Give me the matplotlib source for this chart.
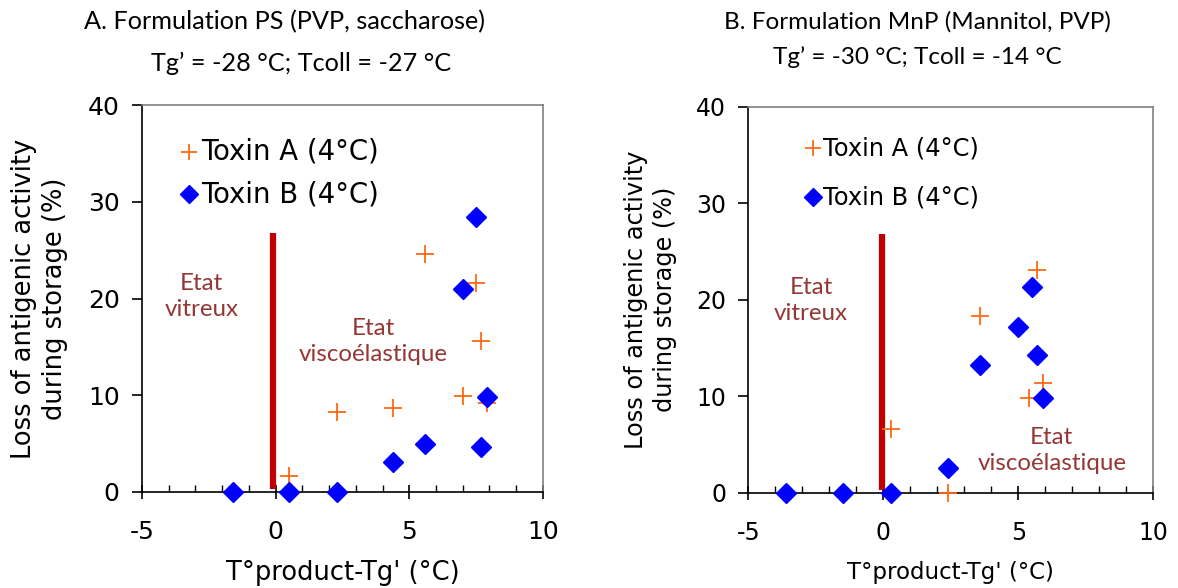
import matplotlib
matplotlib.use("Agg")
import matplotlib.pyplot as plt
from matplotlib.ticker import MultipleLocator

plt.rcParams["axes.unicode_minus"] = False

# panel A: formulation PS
a_toxA_x = [0.5, 2.3, 4.4, 5.6, 7.0, 7.9, 7.7, 7.5]
a_toxA_y = [1.7, 8.3, 8.7, 24.6, 9.9, 9.2, 15.6, 21.6]
a_toxB_x = [-1.6, 0.5, 2.3, 4.4, 5.6, 7.7, 7.9, 7.0, 7.5]
a_toxB_y = [0, 0, 0, 3.1, 5.0, 4.6, 9.8, 21.0, 28.4]

# panel B: formulation MnP
b_toxA_x = [2.4, 0.3, 3.6, 5.7, 5.9, 5.4]
b_toxA_y = [0, 6.6, 18.3, 23.1, 11.4, 9.8]
b_toxB_x = [-3.6, -1.5, 0.3, 2.4, 3.6, 5.0, 5.7, 5.5, 5.9]
b_toxB_y = [0, 0, 0, 2.6, 13.2, 17.2, 14.3, 21.3, 9.8]

tg_line_x = [-0.1, -0.05]
tg_line_top = 26.8

ORANGE = "#FF6A13"
BLUE = "#0000FF"
RED = "#C00000"
TXT = "#953735"
TITLE_FONT = ["Lato", "DejaVu Sans"]

fig = plt.figure(figsize=(11.78, 5.88), dpi=100)
axA = fig.add_axes([0.1205, 0.1633, 0.3404, 0.658])
axB = fig.add_axes([0.6352, 0.162, 0.3438, 0.6565])


def style(ax, fs, lab_fs):
    ax.set_xlim(-5, 10)
    ax.set_ylim(0, 40)
    ax.xaxis.set_major_locator(MultipleLocator(5))
    ax.xaxis.set_minor_locator(MultipleLocator(1))
    ax.yaxis.set_major_locator(MultipleLocator(10))
    ax.tick_params(axis="x", which="major", direction="inout", length=10,
                   width=1.2, labelsize=fs, pad=15)
    ax.tick_params(axis="x", which="minor", direction="in", length=5, width=1)
    ax.tick_params(axis="y", which="major", direction="out", length=7,
                   width=1.2, labelsize=fs, pad=9)
    for s in ("top", "right"):
        ax.spines[s].set_color("#808080")
        ax.spines[s].set_linewidth(1.2)
    for s in ("left", "bottom"):
        ax.spines[s].set_color("black")
        ax.spines[s].set_linewidth(1.2)
    ax.set_xlabel("T°product-Tg' (°C)", fontsize=lab_fs, labelpad=12)
    ax.set_ylabel("Loss of antigenic activity\nduring storage (%)",
                  fontsize=lab_fs + 0.8 if ax is axB else lab_fs,
                  labelpad=14, linespacing=1.25)


def panel(ax, xa, ya, xb, yb, lx, fs, lab_fs):
    style(ax, fs, lab_fs)
    ax.plot([lx, lx], [0.3, tg_line_top], color=RED, lw=4.5,
            solid_capstyle="butt", zorder=2)
    ax.plot(xa, ya, ls="none", marker="+", ms=13, mew=1.3, color=ORANGE,
            clip_on=False, zorder=3)
    ax.plot(xb, yb, ls="none", marker="D", ms=10, color=BLUE, mec=BLUE,
            clip_on=False, zorder=4)


panel(axA, a_toxA_x, a_toxA_y, a_toxB_x, a_toxB_y, tg_line_x[0], 18, 18.5)
panel(axB, b_toxA_x, b_toxA_y, b_toxB_x, b_toxB_y, tg_line_x[1], 17, 16.5)

# legends drawn as marker + text
for ax, mx, off, ya, yb, fs in ((axA, -3.25, 0.45, 35.2, 30.8, 19.8),
                                (axB, -2.6, 0.35, 35.7, 30.6, 17.4)):
    ax.plot([mx], [ya], ls="none", marker="+", ms=11, mew=1.3, color=ORANGE)
    ax.plot([mx], [yb], ls="none", marker="D", ms=9, color=BLUE)
    ax.text(mx + off, ya, "Toxin A (4°C)", fontsize=fs, va="center")
    ax.text(mx + off, yb, "Toxin B (4°C)", fontsize=fs, va="center")

# state annotations
for ax, x, y, s in ((axA, -2.76, 20.2, "Etat\nvitreux"),
                    (axA, 3.65, 15.6, "Etat\nviscoélastique"),
                    (axB, -2.67, 19.9, "Etat\nvitreux"),
                    (axB, 6.24, 4.4, "Etat\nviscoélastique")):
    ax.text(x, y, s, color=TXT, fontsize=17.4, family=TITLE_FONT,
            ha="center", va="center", linespacing=1.3)

# titles
fig.text(284 / 1178, 1 - 22 / 588, "A. Formulation PS (PVP, saccharose)",
         fontsize=18.2, family=TITLE_FONT, ha="center", va="center")
fig.text(301 / 1178, 1 - 63 / 588, "Tg’ = -28 °C; Tcoll = -27 °C",
         fontsize=18.2, family=TITLE_FONT, ha="center", va="center")
fig.text(917 / 1178, 1 - 22 / 588, "B. Formulation MnP (Mannitol, PVP)",
         fontsize=17.5, family=TITLE_FONT, ha="center", va="center")
fig.text(917 / 1178, 1 - 57 / 588, "Tg’ = -30 °C; Tcoll = -14 °C",
         fontsize=17.5, family=TITLE_FONT, ha="center", va="center")

fig.savefig("out.png", dpi=100)
